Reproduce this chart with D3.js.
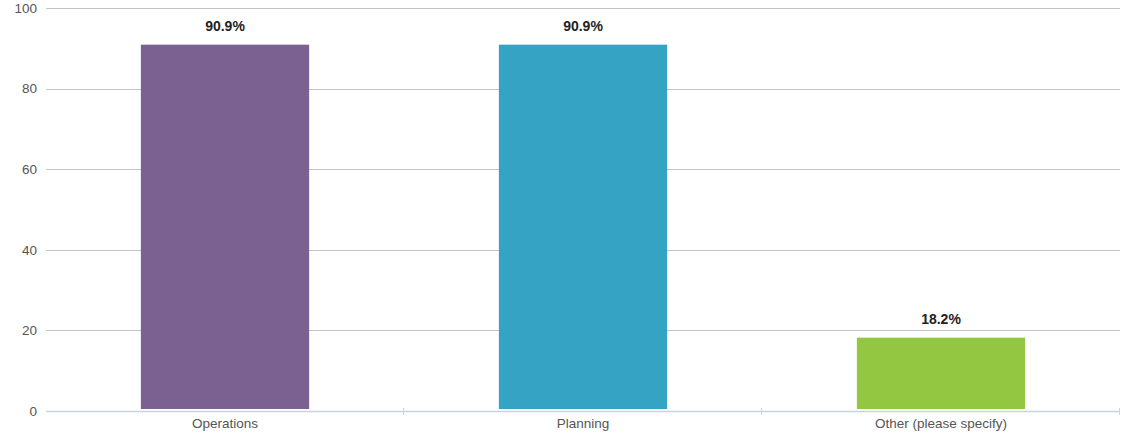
<!DOCTYPE html>
<html>
<head>
<meta charset="utf-8">
<script src="https://cdn.jsdelivr.net/npm/d3@7/dist/d3.min.js"></script>
<style>
  html, body { margin: 0; padding: 0; background: #fff; }
  svg { display: block; font-family: "Liberation Sans", Arial, Helvetica, sans-serif; }
</style>
</head>
<body>
<svg id="chart" width="1121" height="438"></svg>
<script>
// Survey responses (percent of respondents)
const categories = ["Operations", "Planning", "Other (please specify)"];
const values = [90.9, 90.9, 18.2];
const colors = ["#7b6092", "#35a3c3", "#93c741"];
const yTicks = [0, 20, 40, 60, 80, 100];

const width = 1121, height = 438;
const margin = { top: 8, right: 1, bottom: 27, left: 46 };

const svg = d3.select("#chart");

const x = d3.scaleBand()
  .domain(categories)
  .range([margin.left, width - margin.right])
  .paddingInner(0)
  .paddingOuter(0);

const y = d3.scaleLinear()
  .domain([0, 100])
  .range([height - margin.bottom, margin.top]);

// Horizontal gridlines with value labels
const grid = svg.append("g");
grid.selectAll("line")
  .data(yTicks.filter(d => d !== 0))
  .join("line")
  .attr("x1", margin.left)
  .attr("x2", width - margin.right)
  .attr("y1", d => Math.round(y(d)) + 0.5)
  .attr("y2", d => Math.round(y(d)) + 0.5)
  .attr("stroke", "#c4c4c4")
  .attr("stroke-width", 1);

grid.selectAll("text")
  .data(yTicks)
  .join("text")
  .attr("x", 37)
  .attr("y", d => y(d))
  .attr("dy", "0.35em")
  .attr("text-anchor", "end")
  .attr("fill", "#555")
  .attr("font-size", 13.5)
  .text(d => d);

// Bars
const barWidth = x.bandwidth() * 0.47;
svg.append("g").selectAll("rect")
  .data(values)
  .join("rect")
  .attr("x", (d, i) => x(categories[i]) + (x.bandwidth() - barWidth) / 2)
  .attr("y", d => y(d))
  .attr("width", barWidth)
  .attr("height", d => y(0) - 2 - y(d))
  .attr("fill", (d, i) => colors[i]);

// Value labels above bars
svg.append("g").selectAll("text")
  .data(values)
  .join("text")
  .attr("x", (d, i) => x(categories[i]) + x.bandwidth() / 2)
  .attr("y", d => y(d) - 14)
  .attr("text-anchor", "middle")
  .attr("font-size", 14)
  .attr("font-weight", "bold")
  .attr("fill", "#222")
  .text(d => d.toFixed(1) + "%");

// Category axis
const xAxis = d3.axisBottom(x).tickSize(0).tickPadding(0);
const axisG = svg.append("g")
  .attr("transform", `translate(0,${y(0)})`)
  .call(xAxis);
axisG.select(".domain").remove();
axisG.append("line")
  .attr("x1", margin.left)
  .attr("x2", width - margin.right)
  .attr("y1", 0.5).attr("y2", 0.5)
  .attr("stroke", "#c6d3e3")
  .attr("stroke-width", 1.5);
axisG.selectAll(".sep")
  .data(categories.slice(1).concat(["__end"]))
  .join("line")
  .attr("class", "sep")
  .attr("x1", (d, i) => Math.round(margin.left + x.bandwidth() * (i + 1)) - 0.5)
  .attr("x2", (d, i) => Math.round(margin.left + x.bandwidth() * (i + 1)) - 0.5)
  .attr("y1", -3).attr("y2", 4)
  .attr("stroke", "#c6d3e3");
axisG.selectAll(".tick text")
  .attr("y", 12)
  .attr("dy", "0.35em")
  .attr("fill", "#555")
  .attr("font-size", 13.5)
  .attr("font-family", "\"Liberation Sans\", Arial, sans-serif");
</script>
</body>
</html>
